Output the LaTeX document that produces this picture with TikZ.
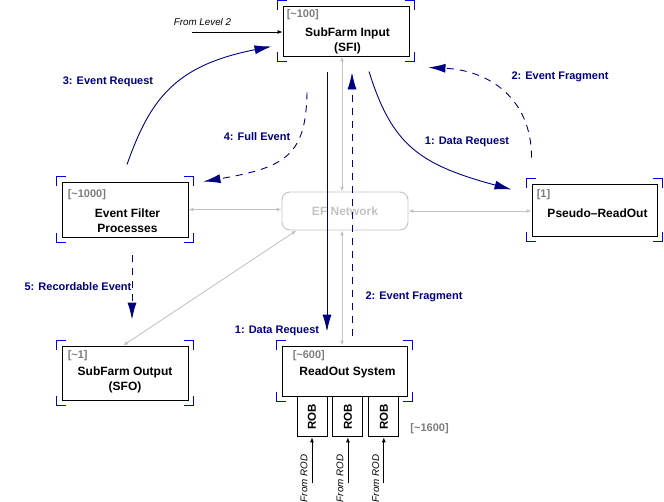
\documentclass[tikz,border=0pt]{standalone}
\usepackage{fontspec}
\setmainfont{Liberation Sans}
\usepackage{xcolor}
\usetikzlibrary{positioning,calc,arrows.meta}

\definecolor{navyblue}{RGB}{0,0,130}
\definecolor{cornerblue}{RGB}{0,0,235}
\definecolor{countgray}{RGB}{125,125,125}
\definecolor{netgray}{RGB}{195,195,195}

% blue corner marks round a box
\newcommand{\corners}[1]{%
  \draw[corner] ([shift={(-5,4)}]#1.north west) -- ++(0,-9) -- ++(9,0);
  \draw[corner] ([shift={(-4,-5)}]#1.north east) -- ++(9,0) -- ++(0,9);
  \draw[corner] ([shift={(-5,-4)}]#1.south west) -- ++(0,9) -- ++(9,0);
  \draw[corner] ([shift={(-4,5)}]#1.south east) -- ++(9,0) -- ++(0,-9);
}

\begin{document}
\begin{tikzpicture}[x=1pt, y=-1pt,
    box/.style={draw, line width=0.9pt, minimum width=126pt, minimum height=52pt, inner sep=0pt},
    robbox/.style={draw, line width=0.9pt, minimum width=30pt, minimum height=40pt, inner sep=0pt},
    title/.style={font=\fontsize{12}{15}\selectfont\bfseries, align=center, inner sep=0pt},
    count/.style={font=\fontsize{11}{13}\selectfont\bfseries, text=countgray, inner sep=0pt, anchor=north west},
    msg/.style={font=\fontsize{11}{13}\selectfont\bfseries, text=navyblue, inner sep=0pt},
    feedtext/.style={font=\fontsize{9.8}{11}\selectfont\itshape, inner sep=0pt},
    corner/.style={draw=cornerblue, line width=1.1pt},
    netlink/.style={draw=netgray, line width=0.9pt, {Latex[length=5pt,width=4pt]}-{Latex[length=5pt,width=4pt]}},
    feed/.style={draw=black, line width=0.8pt, -{Latex[length=5pt,width=4pt]}},
    req/.style={draw=navyblue, line width=0.9pt, -{Latex[length=17pt,width=9pt]}},
    reply/.style={req, dash pattern=on 7pt off 6pt}]

    \useasboundingbox (0,0) rectangle (664,501);

    % boxes
    \node [box, minimum height=50pt] (sfi) at (346,31) {};
    \node [box, minimum height=55pt] (ef) at (125,209.5) {};
    \node [box, minimum width=125pt] (pro) at (594.5,210) {};
    \node [box, minimum height=54pt] (sfo) at (125,373) {};
    \node [box, minimum width=125pt, minimum height=50pt] (ros) at (344.5,371) {};
    \node [draw=netgray, line width=0.9pt, rounded corners=8pt, minimum width=126pt, minimum height=38pt,
           font=\fontsize{12}{15}\selectfont\bfseries, text=netgray] (net) at (345,211) {EF Network};

    \foreach \b in {sfi,ef,pro,sfo,ros} {\corners{\b}}

    % texts in the boxes
    \node [title] (sfi-t) at ($(sfi.center)+(1.5,9.5)$) {SubFarm Input\\(SFI)};
    \node [title] (ef-t) at ($(ef.center)+(2.5,11.5)$) {Event Filter\\Processes};
    \node [title] (pro-t) at ($(pro.center)+(3,3)$) {Pseudo--ReadOut};
    \node [title] (sfo-t) at ($(sfo.center)+(0,7)$) {SubFarm Output\\(SFO)};
    \node [title] (ros-t) at ($(ros.center)+(3,1.5)$) {ReadOut System};

    \node [count] (sfi-n) at ([shift={(4,4)}]sfi.north west) {[\textasciitilde100]};
    \node [count] (ef-n) at ([shift={(6,8)}]ef.north west) {[\textasciitilde1000]};
    \node [count] (pro-n) at ([shift={(5,6)}]pro.north west) {[1]};
    \node [count] (sfo-n) at ([shift={(6,5)}]sfo.north west) {[\textasciitilde1]};
    \node [count] (ros-n) at ([shift={(11,5)}]ros.north west) {[\textasciitilde600]};

    % read-out buffers
    \node [robbox, anchor=north west] (rob1) at ([xshift=15pt]ros.south west) {\rotatebox{90}{\fontsize{11.5}{13}\selectfont\bfseries ROB}};
    \node [robbox, right=5pt of rob1] (rob2) {\rotatebox{90}{\fontsize{11.5}{13}\selectfont\bfseries ROB}};
    \node [robbox, right=5pt of rob2] (rob3) {\rotatebox{90}{\fontsize{11.5}{13}\selectfont\bfseries ROB}};
    \node [count, anchor=west] (rob-n) at ([shift={(11,-9)}]rob3.south east) {[\textasciitilde1600]};

    \foreach \r in {rob1,rob2,rob3} {
        \coordinate (\r-in) at ([shift={(0,46)}]\r.south);
        \draw [feed] (\r-in) -- (\r.south);
        \node [feedtext, rotate=90] (\r-lbl) at ([shift={(-8,41)}]\r.south) {From ROD};
    }

    % input from level 2
    \coordinate (lvl2) at (192,32);
    \draw [feed] (lvl2) -- (lvl2 -| sfi.west);
    \node [feedtext] (lvl2-lbl) at (202.5,22) {From Level 2};

    % network links
    \draw [netlink] ([xshift=-4pt]sfi.south) -- ([xshift=-3pt]net.north);
    \draw [netlink] ([xshift=-3pt]net.south) -- ([xshift=-2.5pt]ros.north);
    \draw [netlink] (ef.east) -- (ef.east -| net.west);
    \draw [netlink] (net.east) -- (net.east -| pro.west);
    \draw [netlink] ([xshift=15pt]net.south west) -- ([xshift=-2pt]sfo.north);

    % messages
    \draw [req] ([shift={(-19,16)}]sfi.south) -- ([shift={(-17.5,-14)}]ros.north);
    \draw [reply] ([shift={(7.5,-10)}]ros.north) -- ([shift={(6,16)}]sfi.south);
    \draw [req] ([shift={(23,15)}]sfi.south) .. controls +(23,74) and +(-92,-25) .. ([shift={(-20,6)}]pro.north west);
    \draw [reply] ([shift={(0,-26)}]pro.north west) .. controls +(0,-58) and +(62,3) .. ([shift={(19,11)}]sfi.south east);
    \draw [req] ([shift={(2,-17)}]ef.north) .. controls +(23,-65) and +(-97,19) .. ([shift={(-11,-10)}]sfi.south west);
    \draw [reply] ([shift={(-39,36)}]sfi.south) .. controls +(-1,63) and +(82,-14) .. ([shift={(15,0)}]ef.north east);
    \draw [reply] ([shift={(7,18)}]ef.south) -- ([shift={(7,-26)}]sfo.north);

    \node [msg] (m-er) at (108,82) {3: Event Request};
    \node [msg] (m-fe) at (257,137) {4: Full Event};
    \node [msg] (m-dr1) at (467,142) {1: Data Request};
    \node [msg] (m-ef1) at (560,77) {2: Event Fragment};
    \node [msg] (m-rec) at (78,287) {5: Recordable Event};
    \node [msg] (m-dr2) at (277,331) {1: Data Request};
    \node [msg] (m-ef2) at (414,297) {2: Event Fragment};
\end{tikzpicture}
\end{document}
